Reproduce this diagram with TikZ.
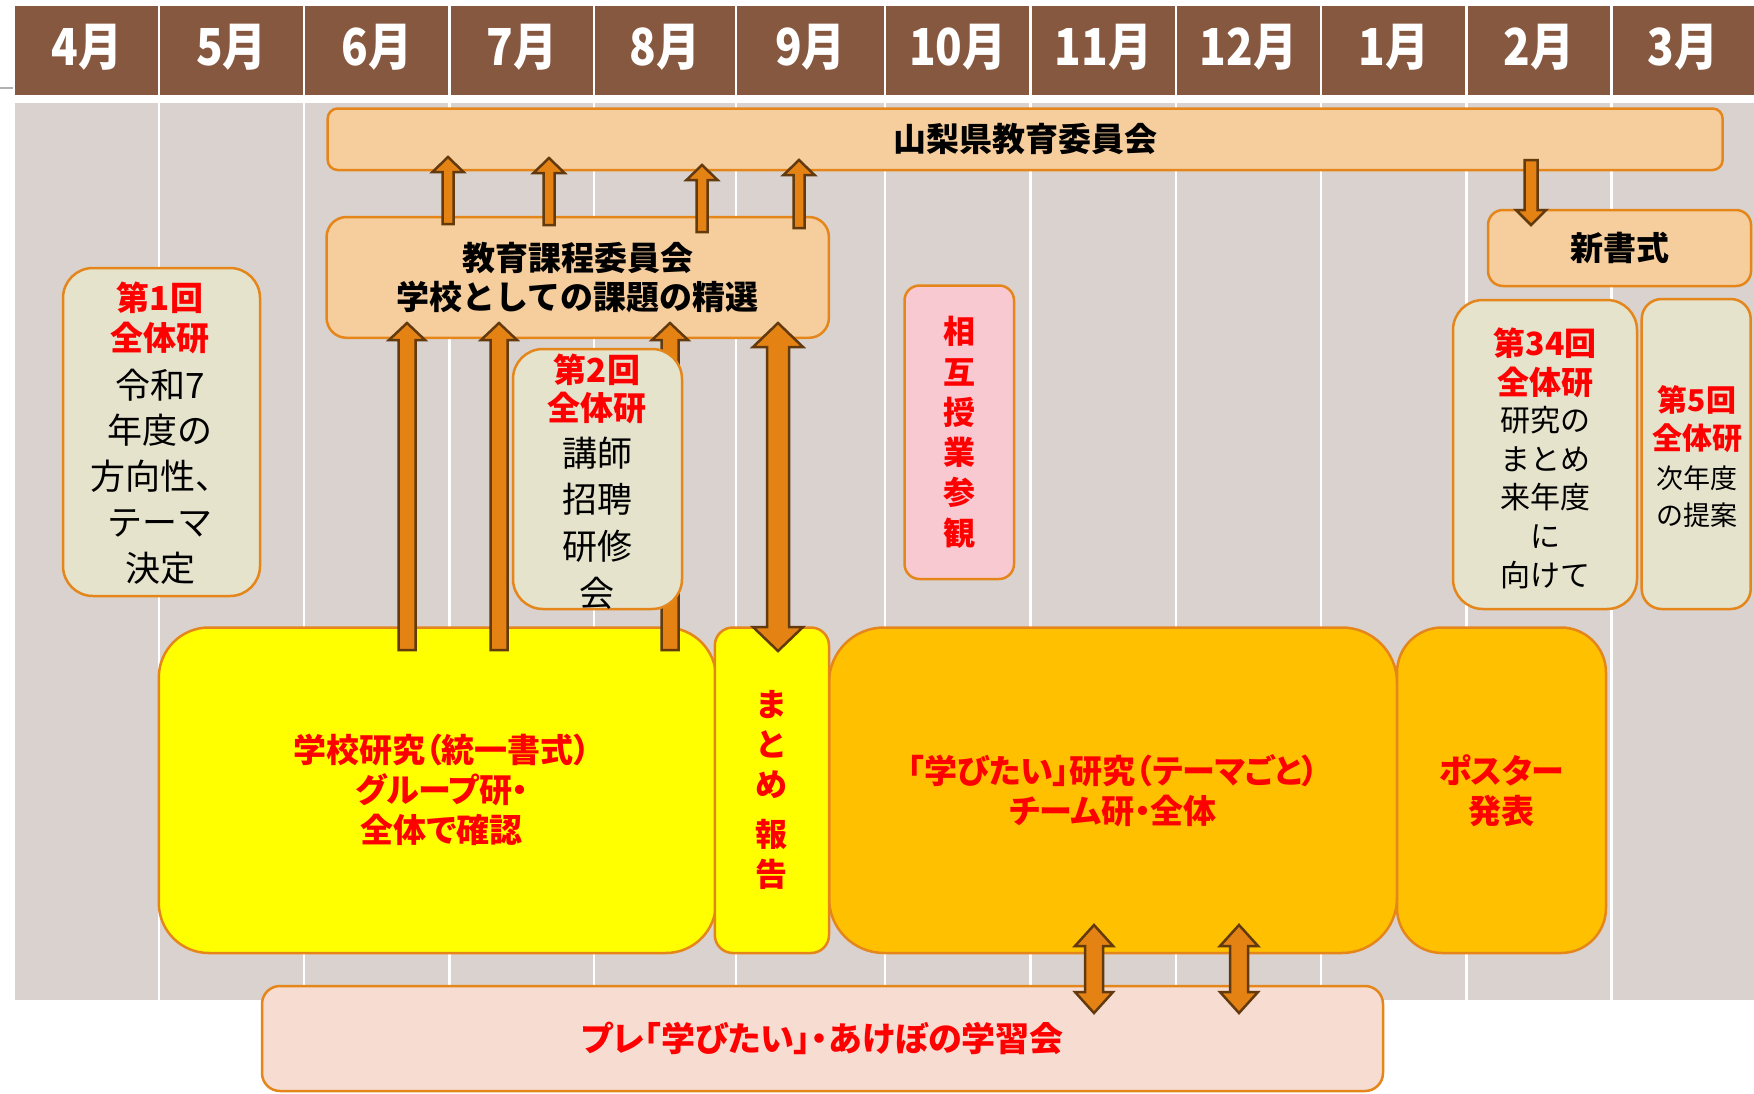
\documentclass[tikz,border=0pt]{standalone}
\usepackage{fontspec}
\setmainfont{Noto Sans CJK JP}
\newfontfamily\jpc{Noto Sans CJK JP}[CharacterWidth=AlternateProportional]
\newfontfamily\jph{Noto Sans CJK JP}[FakeStretch=0.86]
\usetikzlibrary{calc}
\definecolor{hdr}{HTML}{875840}
\definecolor{bg}{HTML}{D9D2CF}
\definecolor{peach}{HTML}{F6CE9E}
\definecolor{obrd}{HTML}{E5861A}
\definecolor{cream}{HTML}{E6E3CC}
\definecolor{pinkf}{HTML}{F8C9D0}
\definecolor{ylw}{HTML}{FFFF00}
\definecolor{org}{HTML}{FFC000}
\definecolor{btm}{HTML}{F7DCD1}
\definecolor{arrf}{HTML}{E48314}
\definecolor{arrd}{HTML}{623A0D}
\definecolor{rd}{HTML}{FF0000}
\tikzset{
  rbox/.style={draw=obrd, line width=2.5pt, inner sep=0pt, align=center},
  blockarr/.style={fill=arrf, draw=arrd, line width=2.5pt, line join=miter},
  hdrtxt/.style={text=white, font=\jph\bfseries\fontsize{51}{55}\selectfont, inner sep=0pt},
  ttl/.style={font=\bfseries\fontsize{33}{39.5}\selectfont},
  bigred/.style={text=rd, font=\jpc\bfseries\fontsize{33}{40}\selectfont},
  txtblk/.style={inner sep=0pt, align=center},
}
% box node from corners: name, style, x1, y1, x2, y2, text
\newcommand\bx[7]{\node[rbox,#2,minimum width={#5-#3},minimum height={#6-#4}] (#1) at ({(#3+#5)/2},{(#4+#6)/2}) {#7};}
% single block arrow: tail, tip, shaft half, head half, signed head length
\newcommand\arrowv[5]{%
  \draw[blockarr] let \p1=(#1), \p2=(#2) in
  ({\x1-#3pt},{\y1}) -- ({\x1-#3pt},{\y2-(#5pt)}) -- ({\x1-#4pt},{\y2-(#5pt)}) -- ({\x2},{\y2})
  -- ({\x1+#4pt},{\y2-(#5pt)}) -- ({\x1+#3pt},{\y2-(#5pt)}) -- ({\x1+#3pt},{\y1}) -- cycle;}
% double block arrow: lower end, upper end, shaft half, head half, head length
\newcommand\arrowd[5]{%
  \draw[blockarr] let \p1=(#1), \p2=(#2) in
  ({\x1},{\y1}) -- ({\x1+#4pt},{\y1+#5pt}) -- ({\x1+#3pt},{\y1+#5pt}) -- ({\x1+#3pt},{\y2-#5pt})
  -- ({\x1+#4pt},{\y2-#5pt}) -- ({\x2},{\y2}) -- ({\x1-#4pt},{\y2-#5pt}) -- ({\x1-#3pt},{\y2-#5pt})
  -- ({\x1-#3pt},{\y1+#5pt}) -- ({\x1-#4pt},{\y1+#5pt}) -- cycle;}
\begin{document}
\begin{tikzpicture}[x=1pt,y=-1pt]
\useasboundingbox (0,0) rectangle (1754,1093);
% small tick at left
\draw[gray!60, line width=1.5pt] (0,88) -- (13,88);
% header and background
\fill[hdr] (14.5,6) rectangle (1754,95);
\fill[bg] (14.5,103) rectangle (1754,1000);
\foreach \x in {159,304,449.5,594,736,885,1030.5,1176,1321,1466.5,1611.5} {
  \draw[white,line width=2.5pt] (\x,6) -- (\x,95);
  \draw[white,line width=2.5pt] (\x,103) -- (\x,1000);
}
\foreach \i/\xa/\xb/\t in {1/14.5/159/4月, 2/159/304/5月, 3/304/449.5/6月, 4/449.5/594/7月,
  5/594/736/8月, 6/736/885/9月, 7/885/1030.5/10月, 8/1030.5/1176/11月, 9/1176/1321/12月,
  10/1321/1466.5/1月, 11/1466.5/1611.5/2月, 12/1611.5/1754/3月} {
  \node[hdrtxt] (m\i) at ({(\xa+\xb)/2},47) {\t};
}
% main boxes
\bx{ken}{fill=peach,rounded corners=10pt,ttl}{327.7}{108.5}{1722.6}{170}{山梨県教育委員会}
\bx{kyo}{fill=peach,rounded corners=20pt,ttl}{326.6}{217}{828.9}{337.8}{教育課程委員会\\学校としての課題の精選}
\bx{yel}{fill=ylw,rounded corners=50pt,bigred}{158.8}{627.5}{716}{953}{\hspace*{9pt}学校研究（統一書式）\\\hspace*{9pt}グループ研・\\\hspace*{9pt}全体で確認}
\bx{gak}{fill=org,rounded corners=55pt,bigred}{829}{627.5}{1397}{953}{「学びたい」研究（テーマごと）\\チーム研・全体}
\bx{mat}{fill=ylw,rounded corners=18pt,text=rd,font=\bfseries\fontsize{32}{40}\selectfont}{714.8}{627.5}{829}{953}{ま\\と\\め\\[10pt]報\\告}
\bx{pos}{fill=org,rounded corners=45pt,bigred}{1397}{627.5}{1606}{953}{ポスター\\発表}
\bx{pre}{fill=btm,rounded corners=18pt,text=rd,font=\jpc\bfseries\fontsize{34}{40}\selectfont}{262}{986}{1383}{1091}{プレ「学びたい」・あけぼの学習会}
\bx{shin}{fill=peach,rounded corners=15pt,ttl}{1488}{210}{1751}{286}{新書式}
% arrow end points
\coordinate (a1t) at (448,224);  \coordinate (a1h) at (448,157);
\coordinate (a2t) at (549,225);  \coordinate (a2h) at (549,158);
\coordinate (a3t) at (702,232);  \coordinate (a3h) at (702,165);
\coordinate (a4t) at (799,228);  \coordinate (a4h) at (799,160);
\coordinate (b1t) at (407,650);  \coordinate (b1h) at (407,323);
\coordinate (b2t) at (499,650);  \coordinate (b2h) at (499,323);
\coordinate (b3t) at (670,650);  \coordinate (b3h) at (670,323);
\coordinate (c1b) at (778,651);  \coordinate (c1a) at (778,323);
\coordinate (s1t) at (1531,160); \coordinate (s1h) at (1531,225);
\coordinate (d1b) at (1094,1013); \coordinate (d1a) at (1094,925);
\coordinate (d2b) at (1239,1013); \coordinate (d2a) at (1239,925);
% arrows kyo -> ken
\arrowv{a1t}{a1h}{5.5}{15.5}{15}
\arrowv{a2t}{a2h}{5.5}{15.5}{15}
\arrowv{a3t}{a3h}{5.5}{15.5}{15}
\arrowv{a4t}{a4h}{5.5}{15.5}{15}
% arrows yel -> kyo
\arrowv{b1t}{b1h}{8.5}{18}{17}
\arrowv{b2t}{b2h}{8.5}{18}{17}
\arrowv{b3t}{b3h}{8.5}{18}{17}
% double arrow kyo <-> mat
\arrowd{c1b}{c1a}{11}{25}{24}
% ken -> shin
\arrowv{s1t}{s1h}{6.5}{15}{-15}
% gak <-> pre
\arrowd{d1b}{d1a}{9}{19}{21}
\arrowd{d2b}{d2a}{9}{19}{21}
% side boxes
\bx{z1}{fill=cream,rounded corners=30pt}{63}{268}{260}{596}{}
\node[txtblk,text=rd,font=\bfseries\fontsize{33}{40}\selectfont] (z1r) at (160,318) {第1回\\全体研};
\node[txtblk,font=\fontsize{35}{45.75}\selectfont] (z1b) at (160,476.5) {令和7\\年度の\\方向性、\\テーマ\\決定};
\bx{z2}{fill=cream,rounded corners=30pt}{513}{349}{682}{609}{}
\node[txtblk,text=rd,font=\bfseries\fontsize{33}{38}\selectfont] (z2r) at (597,389) {第2回\\全体研};
\node[txtblk,font=\fontsize{35}{46.7}\selectfont] (z2b) at (597,523) {講師\\招聘\\研修\\会};
\bx{sog}{fill=pinkf,rounded corners=15pt,text=rd,font=\bfseries\fontsize{32}{40.3}\selectfont}{904.5}{285.5}{1014}{579}{相\\互\\授\\業\\参\\観}
\bx{z3}{fill=cream,rounded corners=30pt}{1453}{300}{1637}{609}{}
\node[txtblk,text=rd,font=\bfseries\fontsize{32}{39}\selectfont] (z3r) at (1545,362.5) {第34回\\全体研};
\node[txtblk,font=\fontsize{30}{38.75}\selectfont] (z3b) at (1545,497.5) {研究の\\まとめ\\来年度\\に\\向けて};
\bx{z5}{fill=cream,rounded corners=20pt}{1641.7}{299}{1750.7}{609}{}
\node[txtblk,text=rd,font=\bfseries\fontsize{30}{38}\selectfont] (z5r) at (1697,419) {第5回\\全体研};
\node[txtblk,font=\fontsize{27}{37}\selectfont] (z5b) at (1697,496.5) {次年度\\の提案};
\end{tikzpicture}
\end{document}
